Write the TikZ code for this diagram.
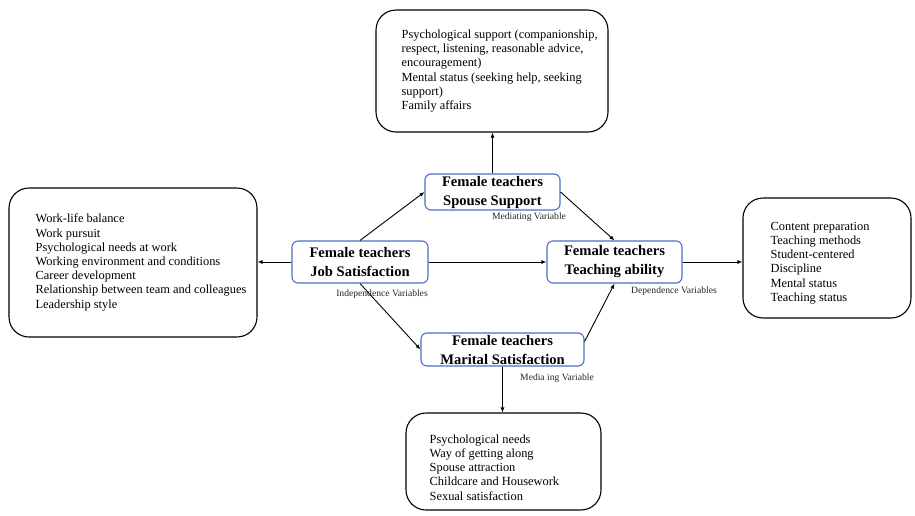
\documentclass[tikz,border=0pt]{standalone}
\usepackage{fontspec}
\setmainfont{Liberation Serif}
\usepackage{xcolor}
\usepackage{tikz}
\usetikzlibrary{arrows.meta,positioning}
\definecolor{varblue}{RGB}{68,114,196}

\begin{document}
\begin{tikzpicture}[x=1pt,y=-1pt,
    every node/.style={font=\fontsize{12.4}{14.2}\selectfont},
    listbox/.style={draw, line width=1.1pt, rounded corners=20pt, inner sep=0pt},
    listtext/.style={anchor=west, align=left, inner sep=0pt},
    varbox/.style={draw=varblue, line width=1.1pt, rounded corners=6pt, align=center,
        inner sep=0pt, font=\fontsize{14.6}{19}\selectfont\bfseries},
    varlabel/.style={font=\fontsize{9.6}{10}\selectfont, text=black!85},
    link/.style={-{Latex[length=5pt,width=4pt]}, line width=0.9pt}]
\useasboundingbox (0,0) rectangle (915,515);

% --- variables ---
\node[varbox, minimum width=136pt, minimum height=42pt] (job) at (360,262)
    {Female teachers\\Job Satisfaction};
\node[varbox, minimum width=135pt, minimum height=36pt] (spouse) at (492.5,192)
    {Female teachers\\Spouse Support};
\node[varbox, minimum width=135pt, minimum height=42pt] (teach) at (614.5,262)
    {Female teachers\\Teaching ability};
\node[varbox, minimum width=163pt, minimum height=33pt] (marital) at (502.5,349.5)
    {Female teachers\\Marital Satisfaction};

% --- variable kinds ---
\node[varlabel] (medlab) at (529,217) {Mediating Variable};
\node[varlabel] (indlab) at (382,294) {Independence Variables};
\node[varlabel] (deplab) at (674,291) {Dependence Variables};
\node[varlabel] (medlabb) at (557,378) {Media ing Variable};

% --- dimensions ---
\node[listbox, minimum width=232pt, minimum height=122pt] (topbox) at (492,71) {};
\node[listtext] (toplist) at ([shift={(26,0)}]topbox.west)
    {Psychological support (companionship,\\respect, listening, reasonable advice,\\encouragement)\\Mental status (seeking help, seeking\\support)\\Family affairs};
\node[listbox, minimum width=248pt, minimum height=149pt] (leftbox) at (133,262.5) {};
\node[listtext] (leftlist) at ([shift={(27,0)}]leftbox.west)
    {Work-life balance\\Work pursuit\\Psychological needs at work\\Working environment and conditions\\Career development\\Relationship between team and colleagues\\Leadership style};
\node[listbox, minimum width=168pt, minimum height=120pt] (rightbox) at (827,258) {};
\node[listtext] (rightlist) at ([shift={(28,5)}]rightbox.west)
    {Content preparation\\Teaching methods\\Student-centered\\Discipline\\Mental status\\Teaching status};
\node[listbox, minimum width=195pt, minimum height=97pt] (botbox) at (503.5,461.5) {};
\node[listtext] (botlist) at ([shift={(24,6)}]botbox.west)
    {Psychological needs\\Way of getting along\\Spouse attraction\\Childcare and Housework\\Sexual satisfaction};

% --- links ---
\draw[link] (job.north) -- (spouse.west);
\draw[link] (job.east) -- (teach.west);
\draw[link] (job.west) -- (job.west -| leftbox.east);
\draw[link] (job.south) -- (marital.west);
\draw[link] (spouse.east) -- (teach.north);
\draw[link] (spouse.north) -- (spouse.north |- topbox.south);
\draw[link] ([yshift=8pt]marital.east) -- (teach.south);
\draw[link] (marital.south) -- (marital.south |- botbox.north);
\draw[link] (teach.east) -- (teach.east -| rightbox.west);
\end{tikzpicture}
\end{document}
